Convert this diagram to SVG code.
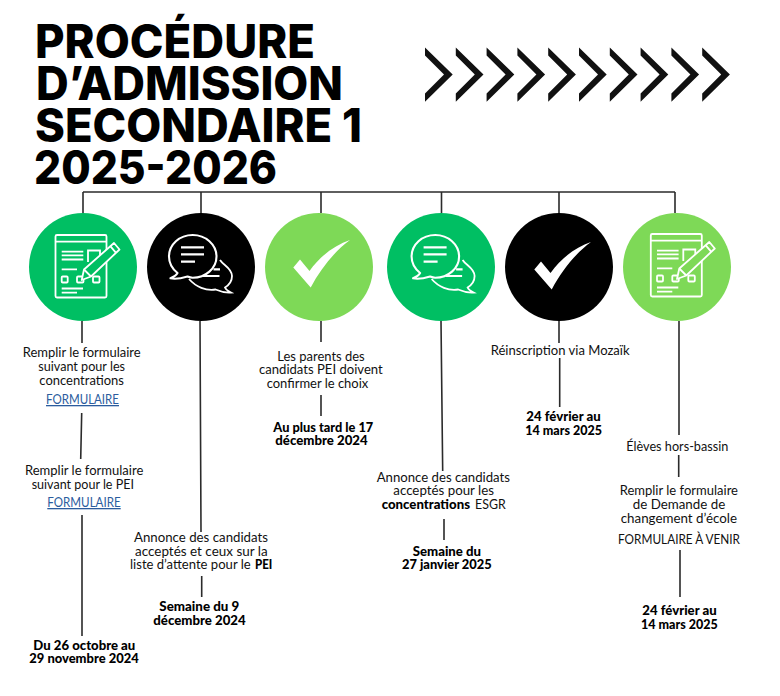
<svg xmlns="http://www.w3.org/2000/svg" xmlns:xlink="http://www.w3.org/1999/xlink" width="780" height="696" viewBox="0 0 780 696">
<style>
text{font-family:"Lato","Liberation Sans",sans-serif;fill:#111;font-size:13px;font-weight:400}
.title{font-family:"Inter","Liberation Sans",sans-serif;font-size:46px;font-weight:800;fill:#000}
.b{font-weight:900;fill:#000}
.l{fill:#2b5c9e;text-decoration:underline}
#connectors path{stroke:#2b2b2b;stroke-width:1.6;fill:none}
.w{fill:none;stroke:#fff;stroke-width:1.8}
.wf{fill:currentColor;stroke:#fff;stroke-width:1.8;stroke-linejoin:round}
.green{fill:#00BF63;color:#00BF63}.lime{fill:#7ED957;color:#7ED957}.black{fill:#000;color:#000}
</style>
<defs>
<g id="form" fill="none">
<rect class="w" x="55.500" y="235" width="51" height="62.500" rx="1.500"/>
<path class="w" d="M55.500 241.700H106.500M61.700 251.700H83.300M61.700 255.300H83.300M61.700 259.500H83.300M61.700 269.300H77M61.700 288.500H83M61.700 292.700H77"/>
<path class="w" d="M88 262V250.500H100V257"/>
<rect class="w" x="61.700" y="276.500" width="6" height="6" rx="1"/>
<rect class="w" x="77" y="276.500" width="6.500" height="6" rx="1"/>
<rect class="w" x="93" y="276.500" width="6.500" height="6" rx="1"/>
<path class="wf" d="M81.700 280L84 269.500L114 243L119.500 249.500L91 276.500Z"/>
<path class="w" d="M84 269.500L91 276.500M110.500 246.300L116 252.800"/>
</g>
<g id="chat">
<path class="w" d="M220 260C223 265 232 268 232 276C232 281 229 285 225 287.500C226 290 228 291 231 292.500C224 293 219 291 215.500 289.500C206 291 196 287 189 279"/>
<path class="wf" style="stroke-width:2.100" d="M192.700 235C179.500 235 169 244.500 169 256.500C169 263.500 172.500 269 177.500 273C176.500 275 174.500 276.500 170.500 278.300C176 279.500 182.500 278 187.500 276.500C189.500 277.300 191 277.700 192.700 277.700C205.500 277.700 216.500 268.500 216.500 256.500C216.500 244.500 205.500 235 192.700 235Z"/>
<path style="stroke:#fff;stroke-width:2.200;fill:none" d="M181 247.300H204M181 254.300H204M181 261.700H195M213.500 269.300H220M203 276H219.500"/>
</g>
<path id="check" fill="#fff" d="M293.300 267.500L300 259.500L309.500 271C320 256 335 245 350 240C335 251 321 268 310.700 287.500Z"/>
<polygon id="chev" fill="#111" points="425,47.500 452.700,74.500 425,101.700 425,93.500 444,74.500 425,55.500"/>
</defs>

<g id="connectors">
<path d="M83 192H675M83 192V213M201 192V213M321 192V213M441.500 192V213M559 192V213M675 192V213"/>
<path d="M82 321V343M81.700 413L80.700 459M82 515V636"/>
<path d="M200 321L201 532M201.700 576V597"/>
<path d="M321 321V342M321 395V416"/>
<path d="M441 321L442.700 471M444 519V540"/>
<path d="M559 321V343M559.700 358V407"/>
<path d="M679 321V435M678.700 455V477M680 550V597"/>
</g>

<g id="title">
<text class="title" x="35" y="58" textLength="280" lengthAdjust="spacingAndGlyphs">PROCÉDURE</text>
<text class="title" x="36" y="100" textLength="307" lengthAdjust="spacingAndGlyphs">D’ADMISSION</text>
<text class="title" x="35" y="142" textLength="327" lengthAdjust="spacingAndGlyphs">SECONDAIRE 1</text>
<text class="title" x="34" y="184" textLength="243" lengthAdjust="spacingAndGlyphs">2025-2026</text>
</g>

<g id="chevrons">
<use xlink:href="#chev"/>
<use xlink:href="#chev" x="30.800"/>
<use xlink:href="#chev" x="61.600"/>
<use xlink:href="#chev" x="92.400"/>
<use xlink:href="#chev" x="123.200"/>
<use xlink:href="#chev" x="154"/>
<use xlink:href="#chev" x="184.800"/>
<use xlink:href="#chev" x="215.600"/>
<use xlink:href="#chev" x="246.400"/>
<use xlink:href="#chev" x="277.200"/>
</g>

<g id="node1">
<circle class="green" cx="83" cy="267" r="54"/>
<use xlink:href="#form" class="green"/>
<text x="22.700" y="357" textLength="118" lengthAdjust="spacingAndGlyphs">Remplir le formulaire</text>
<text x="38.300" y="371" textLength="86.700" lengthAdjust="spacingAndGlyphs">suivant pour les</text>
<text x="39.300" y="385" textLength="84.700" lengthAdjust="spacingAndGlyphs">concentrations</text>
<text class="l" x="46" y="404" textLength="73" lengthAdjust="spacingAndGlyphs">FORMULAIRE</text>
<text x="25" y="475" textLength="118.300" lengthAdjust="spacingAndGlyphs">Remplir le formulaire</text>
<text x="31.700" y="489" textLength="102.300" lengthAdjust="spacingAndGlyphs">suivant pour le PEI</text>
<text class="l" x="47.300" y="507" textLength="73.400" lengthAdjust="spacingAndGlyphs">FORMULAIRE</text>
<text class="b" x="33.300" y="650" textLength="102" lengthAdjust="spacingAndGlyphs">Du 26 octobre au</text>
<text class="b" x="29.300" y="663" textLength="109.400" lengthAdjust="spacingAndGlyphs">29 novembre 2024</text>
</g>

<g id="node2">
<circle class="black" cx="201" cy="267" r="54"/>
<use xlink:href="#chat" class="black"/>
<text x="134" y="542" textLength="134" lengthAdjust="spacingAndGlyphs">Annonce des candidats</text>
<text x="135" y="556" textLength="132.700" lengthAdjust="spacingAndGlyphs">acceptés et ceux sur la</text>
<text y="569"><tspan x="130" textLength="120.700" lengthAdjust="spacingAndGlyphs">liste d’attente pour le</tspan> <tspan class="b" x="255" textLength="17.300" lengthAdjust="spacingAndGlyphs">PEI</tspan></text>
<text class="b" x="159.300" y="611" textLength="80" lengthAdjust="spacingAndGlyphs">Semaine du 9</text>
<text class="b" x="153.300" y="625" textLength="92.400" lengthAdjust="spacingAndGlyphs">décembre 2024</text>
</g>

<g id="node3">
<circle class="lime" cx="319" cy="267" r="54"/>
<use xlink:href="#check"/>
<text x="277.300" y="361" textLength="87.400" lengthAdjust="spacingAndGlyphs">Les parents des</text>
<text x="259" y="374" textLength="123.700" lengthAdjust="spacingAndGlyphs">candidats PEI doivent</text>
<text x="266.700" y="388" textLength="101.600" lengthAdjust="spacingAndGlyphs">confirmer le choix</text>
<text class="b" x="273.300" y="432" textLength="100" lengthAdjust="spacingAndGlyphs">Au plus tard le 17</text>
<text class="b" x="275.300" y="445" textLength="92.400" lengthAdjust="spacingAndGlyphs">décembre 2024</text>
</g>

<g id="node4">
<circle class="green" cx="441" cy="267" r="54"/>
<use xlink:href="#chat" class="green" x="242.600"/>
<text x="376.700" y="482" textLength="133.300" lengthAdjust="spacingAndGlyphs">Annonce des candidats</text>
<text x="393.300" y="495" textLength="100.700" lengthAdjust="spacingAndGlyphs">acceptés pour les</text>
<text y="509"><tspan class="b" x="381.700" textLength="88.300" lengthAdjust="spacingAndGlyphs">concentrations</tspan> <tspan x="475" textLength="30.700" lengthAdjust="spacingAndGlyphs">ESGR</tspan></text>
<text class="b" x="412.700" y="556" textLength="68.300" lengthAdjust="spacingAndGlyphs">Semaine du</text>
<text class="b" x="402" y="569" textLength="89.700" lengthAdjust="spacingAndGlyphs">27 janvier 2025</text>
</g>

<g id="node5">
<circle class="black" cx="559" cy="267" r="54"/>
<use xlink:href="#check" x="241" y="2"/>
<text x="490.700" y="355" textLength="139" lengthAdjust="spacingAndGlyphs">Réinscription via Mozaïk</text>
<text class="b" x="526.300" y="421" textLength="74.400" lengthAdjust="spacingAndGlyphs">24 février au</text>
<text class="b" x="525.300" y="435" textLength="76.700" lengthAdjust="spacingAndGlyphs">14 mars 2025</text>
</g>

<g id="node6">
<circle class="lime" cx="677" cy="267" r="54"/>
<use xlink:href="#form" class="lime" x="595.300" y="-1"/>
<text x="626.300" y="451" textLength="102" lengthAdjust="spacingAndGlyphs">Élèves hors-bassin</text>
<text x="619.700" y="495" textLength="118.300" lengthAdjust="spacingAndGlyphs">Remplir le formulaire</text>
<text x="632.700" y="509" textLength="92.600" lengthAdjust="spacingAndGlyphs">de Demande de</text>
<text x="620.700" y="523" textLength="116.300" lengthAdjust="spacingAndGlyphs">changement d’école</text>
<text x="618" y="544" textLength="122" lengthAdjust="spacingAndGlyphs">FORMULAIRE À VENIR</text>
<text class="b" x="642.300" y="615" textLength="74.400" lengthAdjust="spacingAndGlyphs">24 février au</text>
<text class="b" x="641" y="629" textLength="76.700" lengthAdjust="spacingAndGlyphs">14 mars 2025</text>
</g>
</svg>
